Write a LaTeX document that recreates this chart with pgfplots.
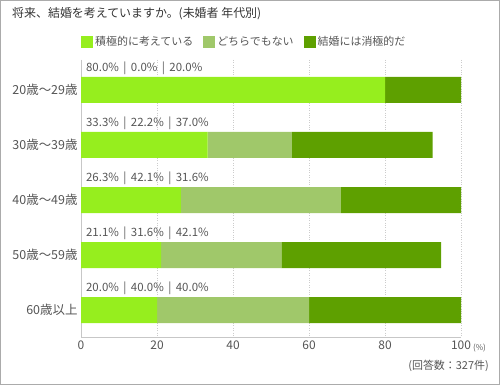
\documentclass[border=0pt]{standalone}
\usepackage{fontspec}
\setmainfont{Noto Sans CJK JP}
\usepackage{pgfplots}
\pgfplotsset{compat=1.18}
\definecolor{cA}{HTML}{96EE1E}
\definecolor{cB}{HTML}{A0C86A}
\definecolor{cC}{HTML}{5EA000}
\definecolor{txt}{HTML}{555555}
\begin{document}
\begin{tikzpicture}
\path[use as bounding box] (0bp,0bp) rectangle (500bp,385bp);
\draw[color=black!33, line width=1bp] (0.5bp,0.5bp) rectangle (499.5bp,384.5bp);
\node[anchor=west, inner sep=0, font=\fontsize{12}{14}\selectfont, text=black!80] at (12bp,371bp) {将来、結婚を考えていますか。(未婚者 年代別)};
\begin{axis}[
  at={(81bp,48bp)}, anchor=south west,
  width=380bp, height=277bp, scale only axis,
  xbar stacked, bar width=26bp,
  xmin=0, xmax=100, ymin=-0.545, ymax=4.49, y dir=reverse,
  axis x line*=bottom, axis y line*=left,
  axis line style={black!22, line width=1bp},
  xtick={0,20,...,100}, ytick={0,1,2,3,4},
  yticklabels={20歳～29歳,30歳～39歳,40歳～49歳,50歳～59歳,60歳以上},
  tick style={draw=none},
  xmajorgrids, grid style={dotted, black!20, line width=1bp},
  ticklabel style={font=\fontsize{12}{14}\selectfont, text=txt},
  yticklabel style={font=\fontsize{12.5}{14}\selectfont},
  /pgf/number format/assume math mode=true,
  legend columns=3,
  legend style={at={(0,1.065)}, anchor=west, draw=none, fill=none, inner sep=0pt,
    font=\fontsize{11}{13}\selectfont, text=txt,
    nodes={inner xsep=2bp, inner ysep=0bp},
    /tikz/every even column/.append style={column sep=8bp}},
  legend image code/.code={\fill[#1] (0bp,-6bp) rectangle (12bp,6bp);},
]
\addplot[fill=cA, draw=none] coordinates {(80,0) (33.3,1) (26.3,2) (21.1,3) (20.0,4)};
\addplot[fill=cB, draw=none] coordinates {(0,0) (22.2,1) (42.1,2) (31.6,3) (40.0,4)};
\addplot[fill=cC, draw=none] coordinates {(20,0) (37.0,1) (31.6,2) (42.1,3) (40.0,4)};
\legend{積極的に考えている,どちらでもない,結婚には消極的だ}
\foreach \i/\t in {0/{80.0\% \,|\, 0.0\% \,|\, 20.0\%},1/{33.3\% \,|\, 22.2\% \,|\, 37.0\%},2/{26.3\% \,|\, 42.1\% \,|\, 31.6\%},3/{21.1\% \,|\, 31.6\% \,|\, 42.1\%},4/{20.0\% \,|\, 40.0\% \,|\, 40.0\%}}{
  \edef\temp{\noexpand\node[anchor=west, inner sep=0, font=\noexpand\fontsize{11.5}{13}\noexpand\selectfont, text=txt] at (axis cs:1.3,\i-0.4) {\t};}
  \temp
}
\end{axis}
\node[anchor=west, inner sep=0, font=\fontsize{8}{10}\selectfont, text=txt] at (473bp,37bp) {(\%)};
\node[anchor=east, inner sep=0, font=\fontsize{11}{13}\selectfont, text=txt] at (489bp,19bp) {(回答数：327件)};
\end{tikzpicture}
\end{document}
